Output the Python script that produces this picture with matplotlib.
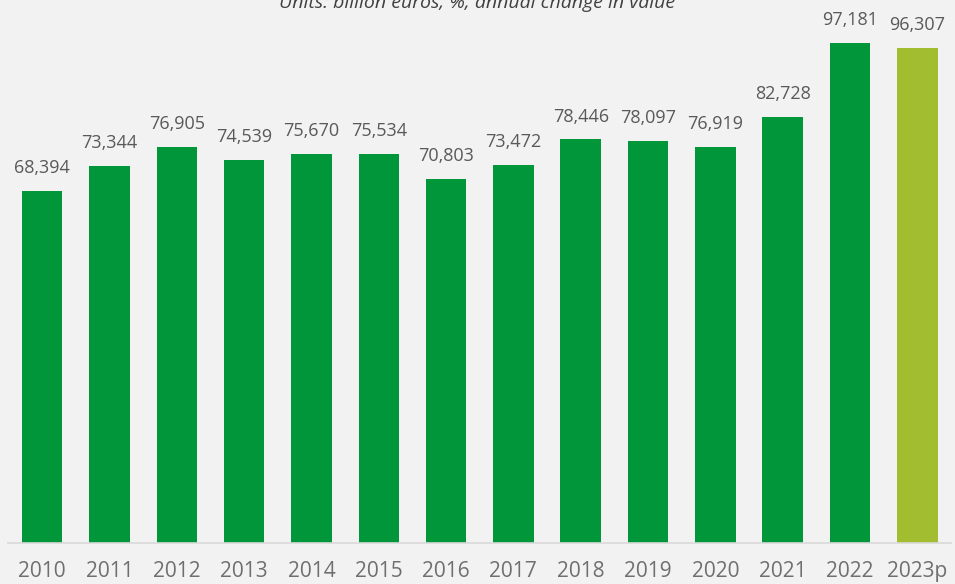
import matplotlib.pyplot as plt

years = ['2010', '2011', '2012', '2013', '2014', '2015', '2016',
         '2017', '2018', '2019', '2020', '2021', '2022', '2023p']
values = [68394, 73344, 76905, 74539, 75670, 75534, 70803,
          73472, 78446, 78097, 76919, 82728, 97181, 96307]
bar_colors = ['#009639'] * 13 + ['#a3bd31']

plt.rcParams['font.family'] = ['Open Sans', 'DejaVu Sans']
bg = '#f2f2f2'

fig = plt.figure(figsize=(9.55, 5.84), dpi=100, facecolor=bg)
ax = fig.add_axes([0.0088, 0.0702, 0.987, 0.9298], facecolor=bg)

x = range(len(years))
ax.bar(x, values, width=0.6, color=bar_colors)

for i, v in enumerate(values):
    ax.annotate(f'{v:,}', (i, v), xytext=(0, 10), textcoords='offset points',
                ha='center', va='bottom', fontsize=13, color='#595959')

ax.set_xlim(-0.5, len(years) - 0.5)
ax.set_ylim(0, 105540)
ax.set_xticks(list(x))
ax.set_xticklabels(years, fontsize=15, color='#6f6f6f')
ax.tick_params(axis='x', length=0, pad=13)
ax.set_yticks([])
for s in ['top', 'right', 'left']:
    ax.spines[s].set_visible(False)
ax.spines['bottom'].set_color('#d9d9d9')
ax.spines['bottom'].set_linewidth(1.2)

fig.text(0.5, 0.986, 'Units: billion euros, %, annual change in value',
         ha='center', va='baseline', fontsize=14, style='italic', color='#404040')

fig.savefig('out.png', dpi=100, facecolor=bg)
